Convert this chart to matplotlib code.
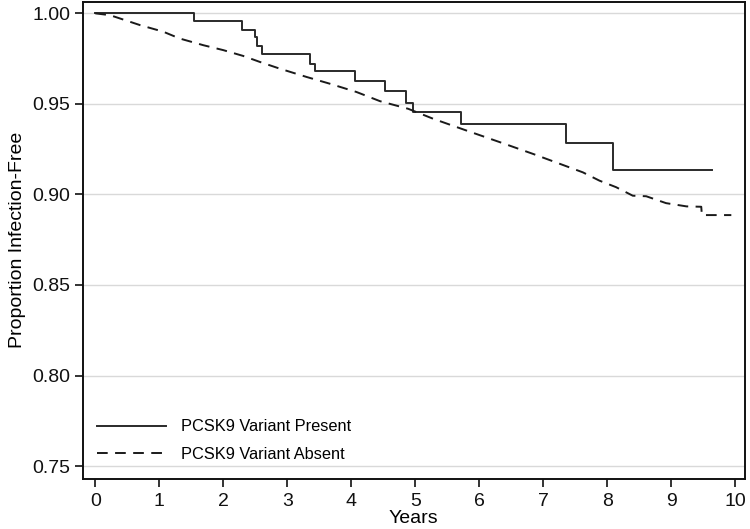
import matplotlib
matplotlib.use("Agg")
import matplotlib.pyplot as plt
import numpy as np

# Kaplan-Meier estimates
present_years = [0.0, 1.54, 2.29, 2.49, 2.53, 2.61, 3.35, 3.44, 4.06, 4.52,
                 4.86, 4.96, 5.71, 7.36, 8.09, 9.64]
present_surv = [1.000, 0.9957, 0.9907, 0.9867, 0.9820, 0.9773, 0.9723, 0.9680,
                0.9627, 0.9570, 0.9507, 0.9455, 0.9387, 0.9283, 0.9135, 0.9135]

absent_years = [0.0, 0.23, 0.70, 1.06, 1.32, 1.69, 2.00, 2.31, 2.57, 2.88,
                3.30, 3.66, 4.08, 4.45, 4.89, 5.28, 5.80, 6.32, 6.84, 7.36,
                7.62, 7.88, 8.14, 8.40, 8.61, 8.92, 9.24, 9.47, 9.48, 9.94]
absent_surv = [1.000, 0.999, 0.9935, 0.9899, 0.9861, 0.9824, 0.9797, 0.9765,
               0.9732, 0.9695, 0.9649, 0.9612, 0.9566, 0.9515, 0.9473, 0.9418,
               0.9353, 0.9289, 0.9224, 0.9156, 0.9122, 0.9076, 0.9040, 0.8993,
               0.8990, 0.8952, 0.8934, 0.8932, 0.8886, 0.8886]

y_ticks = [0.75, 0.80, 0.85, 0.90, 0.95, 1.00]
x_ticks = list(range(0, 11))

plt.rcParams.update({
    "font.family": ["Liberation Sans", "DejaVu Sans"],
    "font.size": 13.5,
})

fig = plt.figure(figsize=(7.5, 5.29), dpi=100)
ax = fig.add_axes([0.110, 0.095, 0.883, 0.902])

ax.plot(present_years, present_surv, drawstyle="steps-post", color="#2a2a2a",
        linewidth=1.4, label="PCSK9 Variant Present")
ax.plot(absent_years, absent_surv, color="#1a1a1a", linewidth=1.4,
        linestyle=(0, (5.5, 3.8)), label="PCSK9 Variant Absent")

ax.set_xlim(-0.2, 10.15)
ax.set_ylim(0.743, 1.0065)
ax.set_xticks(x_ticks)
ax.set_yticks(y_ticks)
ax.set_yticklabels([f"{v:.2f}" for v in y_ticks])

ax.grid(axis="y", color="#d9d9d9", linewidth=1.0)
ax.set_axisbelow(True)

for side in ax.spines.values():
    side.set_color("#111111")
    side.set_linewidth(1.4)

ax.tick_params(direction="out", length=6, width=1.2, colors="#111111",
               labelsize=14, pad=3)
ax.tick_params(axis="x", pad=4)

ax.set_xlabel("Years", fontsize=14, labelpad=0)
ax.set_ylabel("Proportion Infection-Free", fontsize=14, labelpad=4)

ax.legend(loc="lower left", frameon=False, fontsize=11.8, handlelength=4.2,
          handletextpad=0.9, labelspacing=0.75, bbox_to_anchor=(0.0, 0.005))

fig.savefig("out.png", dpi=100)
